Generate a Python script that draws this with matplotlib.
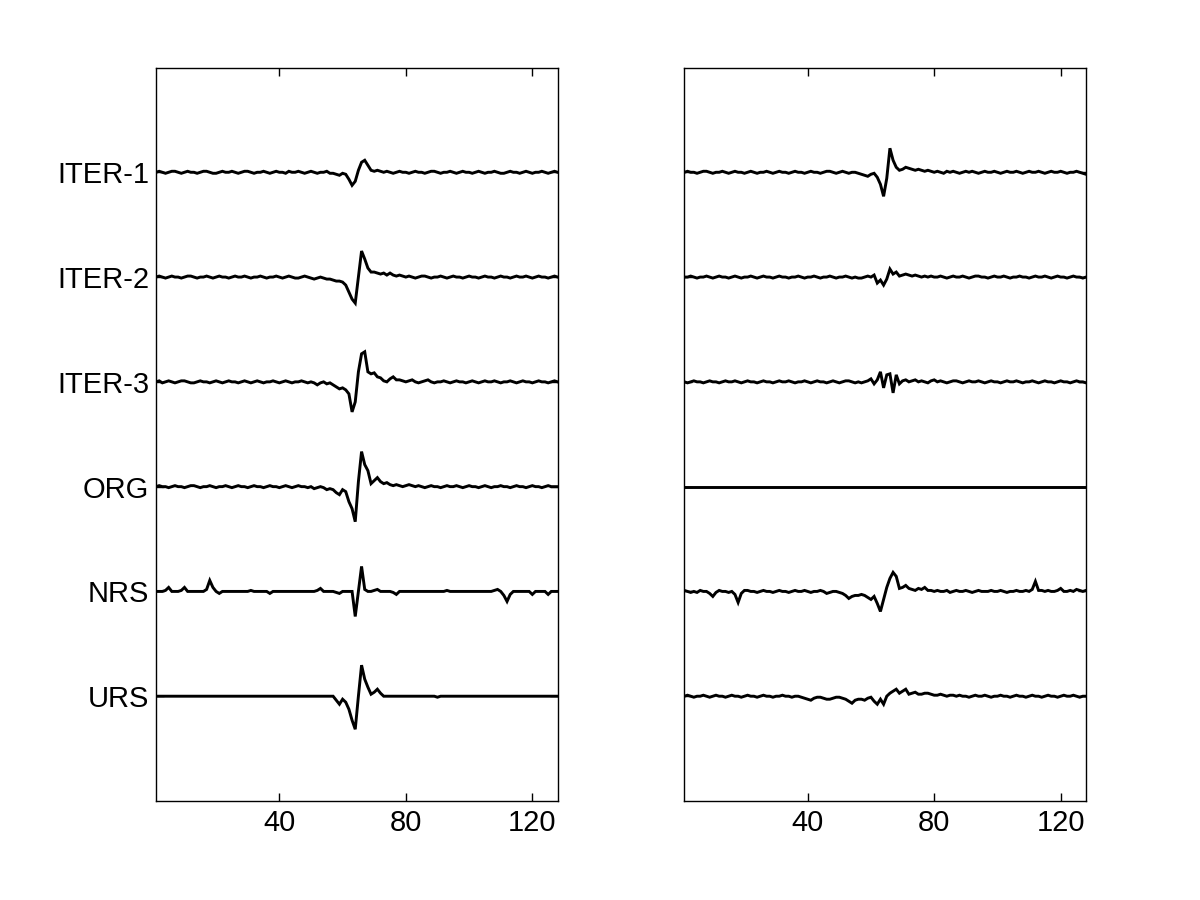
import numpy as np
import matplotlib
matplotlib.use("Agg")
import matplotlib.pyplot as plt

plt.rcParams['font.family'] = ['Liberation Sans', 'DejaVu Sans']

labels = ["ITER-1", "ITER-2", "ITER-3", "ORG", "NRS", "URS"]
xticks = [40, 80, 120]
n_samples = 128
amp_unit = 1.0 / 104.6  # amplitudes below are in hundredths of the trace spacing (approx.)

# ---- left panel traces ----
left_iter1 = [0, 1, 0, -1, 0, 1, 1, 0, -1, 0, 1, 0, 0, -1, 0, 1,
              1, 0, -1, -1, 0, 1, 0, 0, 1, 0, -1, 0, 1, 1, 0, -1,
              0, 0, 1, 0, -1, 0, 1, 0, 0, -1, 1, 0, 0, 1, 0, -1,
              0, 1, 0, -1, 0, 0, 1, -1, -1, -2, -3, -1, -2, -7, -13, -9,
              2, 10, 12, 7, 2, 1, 2, 1, 0, 1, 0, -1, 0, 1, 0, 0,
              -1, 0, 1, 0, 0, -1, 0, 1, 1, 0, -1, 0, 0, 1, 0, -1,
              0, 1, 0, 0, -1, 0, 1, 0, -1, 0, 0, 1, 0, -1, -1, 0,
              1, 0, 0, -1, 0, 1, 0, -1, 0, 0, 1, 0, -1, 0, 1, 0]
left_iter2 = [0, 1, 0, -1, 0, 1, 0, 0, -1, 0, 1, 1, 0, -1, 0, 0,
              1, 0, -1, 0, 1, 0, 0, -1, 0, 1, 0, 0, 1, 0, -1, 0,
              0, 1, 0, -1, 0, 0, 1, 0, -1, 0, 1, 0, -1, -1, 0, 1,
              0, -1, -2, -1, 0, -1, -2, -2, -3, -4, -4, -5, -8, -15, -22, -26,
              0, 26, 18, 9, 5, 5, 4, 3, 4, 2, 4, 2, 1, 2, 1, 0,
              1, 0, -1, 0, 1, 1, 0, -1, 0, 0, 1, 0, -1, 0, 1, 0,
              0, -1, 0, 1, 0, 0, -1, 0, 1, 0, 0, -1, 0, 1, 0, 0,
              -1, 0, 1, 0, 0, 1, 0, -1, 0, 1, 0, 0, -1, 0, 1, 0]
left_iter3 = [0, 1, -1, 0, 1, 0, -1, 0, 1, 1, 0, -1, -1, 0, 1, 0,
              0, -1, 0, 1, 0, -1, 0, 1, 0, 0, -1, 0, 1, 0, -1, 0,
              1, 0, -1, 0, 0, 1, 0, -1, 0, 1, 0, -1, 0, 0, 1, 0,
              -1, 0, -1, -3, -1, 0, -2, -1, -3, -5, -7, -6, -8, -12, -30, -20,
              10, 28, 30, 10, 8, 9, 5, 4, 1, 0, 3, 5, 2, 2, 1, 0,
              1, 2, 0, -1, 0, 1, 2, 0, -1, 0, 0, 1, 0, -1, 0, 1,
              0, 0, -1, 0, 1, 0, -1, 0, 1, 0, 0, 1, 0, -1, 0, 0,
              1, 0, -1, 0, 1, 0, 0, -1, 0, 1, 0, 0, -1, 0, 1, 0]
left_org = [0, 1, 0, 0, -1, 0, 1, 0, 0, -1, 0, 1, 1, 0, -1, 0,
            0, 1, 0, -1, 0, 0, 1, 0, -1, 0, 1, 0, 0, -1, 0, 1,
            0, 0, -1, 0, 1, 0, 0, -1, 0, 1, 0, -1, 0, 1, 0, 0,
            -1, 0, -2, -1, 0, -1, -3, -2, -3, -6, -8, -3, -5, -15, -22, -35,
            5, 35, 22, 16, 3, 6, 9, 5, 3, 4, 2, 1, 2, 1, 0, 1,
            2, 1, 0, 1, 0, -1, 0, 1, 0, 0, -1, 0, 1, 0, 0, 1,
            0, -1, 0, 1, 0, 0, -1, 0, 1, 0, -1, 0, 0, 1, 0, 0,
            -1, 0, 1, 0, 0, -1, 0, 1, 0, 0, -1, 0, 1, 0, 0, 0]
left_nrs = [0, 0, 0, 1, 4, 0, 0, 0, 1, 4, 0, 0, 0, 0, 0, 0,
            2, 11, 4, 0, -2, 0, 0, 0, 0, 0, 0, 0, 0, 0, 1, 0,
            0, 0, 0, 0, -2, 0, 0, 0, 0, 0, 0, 0, 0, 0, 0, 0,
            0, 0, 0, 1, 3, 0, 0, 0, 0, -1, -2, 0, 0, 0, 0, -25,
            0, 25, 2, 0, 0, 1, 2, 0, 0, 0, 0, -1, -3, 0, 0, 0,
            0, 0, 0, 0, 0, 0, 0, 0, 0, 0, 0, 0, 1, 0, 0, 0,
            0, 0, 0, 0, 0, 0, 0, 0, 0, 0, 0, 1, 2, 0, -4, -10,
            -3, 0, 0, 0, 0, 0, 0, -3, 0, 0, 0, 0, -3, 0, 0, 0]
left_urs = [0, 0, 0, 0, 0, 0, 0, 0, 0, 0, 0, 0, 0, 0, 0, 0,
            0, 0, 0, 0, 0, 0, 0, 0, 0, 0, 0, 0, 0, 0, 0, 0,
            0, 0, 0, 0, 0, 0, 0, 0, 0, 0, 0, 0, 0, 0, 0, 0,
            0, 0, 0, 0, 0, 0, 0, 0, 0, -4, -8, -3, -6, -13, -24, -33,
            0, 31, 17, 9, 2, 4, 7, 3, 0, 0, 0, 0, 0, 0, 0, 0,
            0, 0, 0, 0, 0, 0, 0, 0, 0, -1, 0, 0, 0, 0, 0, 0,
            0, 0, 0, 0, 0, 0, 0, 0, 0, 0, 0, 0, 0, 0, 0, 0,
            0, 0, 0, 0, 0, 0, 0, 0, 0, 0, 0, 0, 0, 0, 0, 0]

# ---- right panel traces ----
right_iter1 = [0, 1, 0, 0, -1, 0, 1, 1, 0, -1, 0, 0, 1, 0, -1, 0,
               1, 0, 0, -1, 0, 1, 0, -1, 0, 0, 1, 0, -1, 0, 1, 0,
               0, -1, 0, 1, 0, 0, -1, 0, 1, 0, 0, -1, 0, 1, 1, 0,
               -1, 0, 1, 0, -1, 0, 0, -1, -2, -3, -4, -2, -1, -5, -12, -24,
               -6, 24, 12, 5, 2, 3, 5, 4, 3, 2, 3, 2, 1, 2, 1, 0,
               1, 0, -1, 1, 0, 1, 0, -1, 0, 1, 0, 1, 0, -1, 0, 1,
               0, 0, 1, 0, -1, 0, 1, 0, 0, 1, 0, -1, 0, 1, 0, 0,
               1, 0, -1, 0, 1, 0, 0, 1, 0, -1, 0, 0, 1, 0, -1, -2]
right_iter2 = [0, 0, 1, 0, -1, 0, 0, 1, 0, -1, 0, 1, 0, 0, -1, 0,
               1, 0, -1, 0, 0, 1, 0, -1, 0, 1, 0, 0, -1, 0, 1, 0,
               0, -1, 0, 0, 1, 0, -1, 0, 0, 1, 0, -1, 0, 0, 1, 0,
               -1, 0, 0, 1, 0, -1, 0, -1, -1, 0, 1, 0, 2, -6, -3, -8,
               -2, 8, 3, 5, 1, 2, 3, 2, 1, 2, 1, 0, 1, 0, 1, 0,
               0, 1, 0, -1, 0, 1, 0, 0, 1, 0, -1, 0, 1, 1, 0, 0,
               -1, 0, 1, 0, 0, 1, 0, -1, 0, 0, 1, 0, 0, -1, 0, 1,
               0, 0, 1, 0, -1, 0, 1, 0, 0, -1, 0, 1, 0, 0, -1, 0]
right_iter3 = [0, -1, 0, 1, 0, 0, -1, 0, 1, 0, 0, -1, 0, 1, 0, 0,
               1, 0, -1, 0, 1, 0, 0, -1, 0, 1, 0, 0, -1, 0, 1, 0,
               0, 1, 0, -1, 0, 0, 1, 0, -1, 0, 1, 0, 0, -1, 0, 1,
               0, -1, 0, 1, 1, 0, -1, 0, -1, 0, 1, 3, -2, 2, 10, -6,
               7, 8, -11, 7, -2, 1, 2, 0, 1, 2, 0, 1, 0, -1, 1, 2,
               0, 1, 0, -1, 0, 1, 1, 0, -1, 0, 1, 0, 0, 1, 0, -1,
               0, 1, 0, 0, -1, 0, 1, 0, 0, 1, 0, -1, 0, 0, 1, 0,
               -1, 0, 1, 0, 0, -1, 0, 1, 0, 0, -1, 0, 1, 0, 0, -1]
right_org = np.zeros(n_samples)
right_nrs = [1, 0, -1, 0, -1, 1, 0, 0, -2, -5, -1, 1, 0, 0, -1, 0,
             -3, -11, -2, 1, 1, 0, 0, -1, 0, 1, 0, 0, -1, 0, 1, 0,
             0, -1, 0, 1, 0, 0, 1, 0, -1, 0, 0, 1, 0, -2, -1, 0,
             0, -1, -2, -4, -7, -5, -4, -4, -3, -4, -6, -8, -5, -12, -20, -8,
             4, 13, 19, 15, 3, 4, 6, 3, 2, 1, 3, 2, 4, 1, 1, 0,
             1, 0, 0, 1, -1, 0, 1, 0, 0, 1, 0, -1, 0, 1, 0, 0,
             0, 1, 0, 0, 1, 0, -1, 0, 0, 1, 0, 0, 1, 0, 2, 10,
             1, 1, 0, 1, 0, 0, 1, 3, 0, 0, 1, 0, 2, 1, 0, 1]
right_urs = [0, 1, 0, -1, 0, 0, 1, 0, -1, 0, 1, 0, 0, -1, 0, 1,
             0, 0, -1, 0, 1, 0, 0, -1, 0, 1, 0, 0, -1, 0, 0, 1,
             0, 0, -1, 0, 0, -1, -2, -3, -4, -2, -1, -1, -2, -3, -3, -2,
             -1, -1, -2, -3, -5, -7, -4, -3, -3, -4, -2, -1, -5, -8, -3, -8,
             0, 3, 5, 7, 3, 5, 7, 2, 3, 4, 2, 2, 3, 3, 2, 1,
             1, 2, 1, 0, 1, 1, 0, 1, 0, 0, -1, 0, 1, 0, 0, 1,
             0, -1, 0, 0, 1, 0, 0, -1, 0, 1, 0, 0, -1, 0, 1, 0,
             0, -1, 0, 1, 0, 0, -1, 0, 1, 0, 0, 1, 0, -1, 0, 0]

left_traces = [left_iter1, left_iter2, left_iter3, left_org, left_nrs, left_urs]
right_traces = [right_iter1, right_iter2, right_iter3, right_org, right_nrs, right_urs]

x = np.arange(1, n_samples + 1)
offsets = [6, 5, 4, 3, 2, 1]

fig = plt.figure(figsize=(12, 9), dpi=100, facecolor='white')
ax_l = fig.add_axes([0.13, 0.11, 0.3347, 0.815])
ax_r = fig.add_axes([0.5703, 0.11, 0.3347, 0.815])

for ax, traces, show_labels in [(ax_l, left_traces, True), (ax_r, right_traces, False)]:
    for tr, off in zip(traces, offsets):
        ax.plot(x, off + np.asarray(tr, dtype=float) * amp_unit, color='black', lw=2.1,
                solid_joinstyle='miter')
    ax.set_xlim(1, 128)
    ax.set_ylim(0, 7)
    ax.set_xticks(xticks)
    ax.set_xticklabels([str(t) for t in xticks])
    ax.set_yticks(offsets)
    if show_labels:
        ax.set_yticklabels(labels)
    else:
        ax.set_yticklabels([])
    ax.tick_params(axis='x', direction='in', length=6, width=1, top=True,
                   labelsize=21, pad=6)
    ax.tick_params(axis='y', direction='in', length=6, width=1, right=True,
                   labelsize=21, pad=5)
    for s in ax.spines.values():
        s.set_linewidth(1)

fig.savefig("out.png", dpi=100, facecolor='white')
